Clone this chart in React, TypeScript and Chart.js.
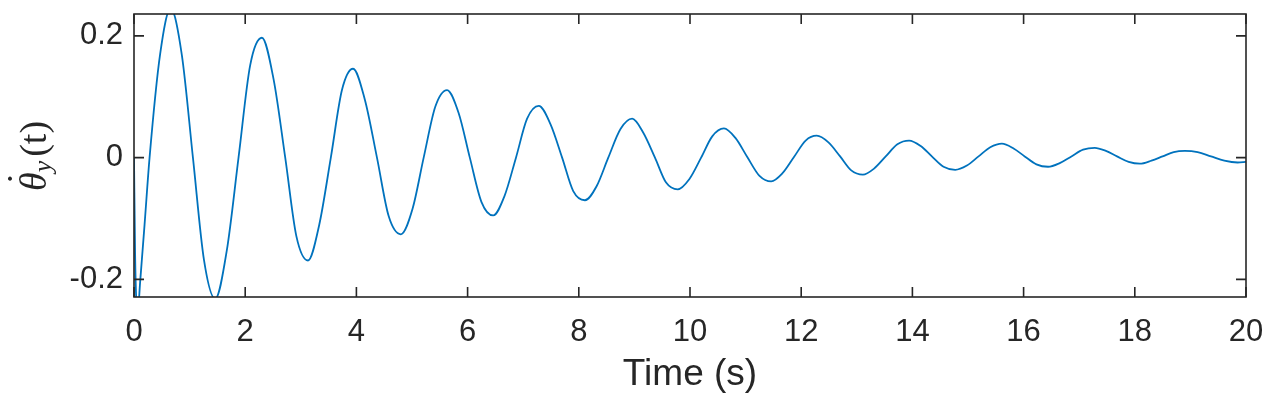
import React, { useEffect, useRef } from "react";
import { Chart, registerables } from "chart.js";

Chart.register(...registerables);

// ---- data ----
const timeS: number[] = [
  0, 0.02, 0.05, 0.07, 0.11, 0.19, 0.28, 0.47, 0.66,
  0.86, 1.06, 1.26, 1.46,
  1.67, 1.88, 2.09, 2.30,
  2.51, 2.72, 2.92, 3.13,
  3.33, 3.54, 3.74, 3.94,
  4.15, 4.37, 4.58, 4.80,
  5.01, 5.21, 5.42, 5.63,
  5.84, 6.04, 6.25, 6.46,
  6.66, 6.87, 7.07, 7.28,
  7.49, 7.70, 7.90, 8.11,
  8.32, 8.53, 8.75, 8.96,
  9.16, 9.37, 9.57, 9.78,
  9.99, 10.20, 10.40, 10.61,
  10.82, 11.03, 11.25, 11.46,
  11.66, 11.87, 12.08, 12.28,
  12.49, 12.70, 12.90, 13.11,
  13.31, 13.52, 13.73, 13.94,
  14.15, 14.35, 14.56, 14.77,
  14.98, 15.19, 15.40, 15.61,
  15.82, 16.02, 16.23, 16.44,
  16.65, 16.86, 17.07, 17.28,
  17.48, 17.68, 17.89, 18.09,
  18.30, 18.50, 18.70, 18.90,
  19.13, 19.37, 19.61, 19.85,
  20.0,
];

const thetaDotY: number[] = [
  0, -0.16, -0.245, -0.25, -0.205, -0.11, 0, 0.17, 0.245,
  0.169, 0, -0.169, -0.232,
  -0.152, 0, 0.152, 0.197,
  0.129, 0, -0.129, -0.169,
  -0.111, 0, 0.111, 0.146,
  0.096, 0, -0.096, -0.126,
  -0.084, 0, 0.084, 0.111,
  0.073, 0, -0.073, -0.095,
  -0.064, 0, 0.064, 0.085,
  0.055, 0, -0.055, -0.07,
  -0.047, 0, 0.047, 0.064,
  0.041, 0, -0.041, -0.052,
  -0.035, 0, 0.035, 0.048,
  0.032, 0.001, -0.03, -0.039,
  -0.026, 0.001, 0.028, 0.036,
  0.025, 0.002, -0.021, -0.028,
  -0.018, 0.002, 0.022, 0.028,
  0.019, 0.002, -0.015, -0.02,
  -0.013, 0.002, 0.017, 0.023,
  0.015, 0.002, -0.011, -0.015,
  -0.009, 0.002, 0.013, 0.016,
  0.011, 0.002, -0.007, -0.01,
  -0.005, 0.002, 0.009, 0.011,
  0.009, 0.002, -0.005, -0.008,
  -0.007,
];

const xTicks: number[] = [0, 2, 4, 6, 8, 10, 12, 14, 16, 18, 20];
const yTicks: number[] = [-0.2, 0, 0.2];
const yTickLabels: string[] = ["-0.2", "0", "0.2"];
const xAxisTitle = "Time (s)";
const X_MIN = 0;
const X_MAX = 20;
const Y_MIN = -0.229;
const Y_MAX = 0.236;

const AXIS_COLOR = "#262626";
const LINE_COLOR = "#0072BD";
const SANS = '"Liberation Sans", Arial, sans-serif';
const SERIF = '"Liberation Serif", "Times New Roman", serif';

const matlabAxesPlugin = {
  id: "matlabAxes",
  afterDatasetsDraw(chart: any) {
    const { ctx, chartArea, scales } = chart;
    const { left, right, top, bottom } = chartArea;
    const xs = scales.x;
    const ys = scales.y;
    ctx.save();
    ctx.strokeStyle = AXIS_COLOR;
    ctx.lineWidth = 1.6;
    ctx.strokeRect(left, top, right - left, bottom - top);
    const L = 10;
    ctx.beginPath();
    xTicks.forEach((v) => {
      const px = xs.getPixelForValue(v);
      ctx.moveTo(px, bottom);
      ctx.lineTo(px, bottom - L);
      ctx.moveTo(px, top);
      ctx.lineTo(px, top + L);
    });
    yTicks.forEach((v) => {
      const py = ys.getPixelForValue(v);
      ctx.moveTo(left, py);
      ctx.lineTo(left + L, py);
      ctx.moveTo(right, py);
      ctx.lineTo(right - L, py);
    });
    ctx.stroke();
    ctx.restore();

    // y-axis label: theta-dot with subscript y, then (t)
    ctx.save();
    ctx.translate(46, 156);
    ctx.rotate(-Math.PI / 2);
    ctx.fillStyle = AXIS_COLOR;
    ctx.textBaseline = "alphabetic";
    ctx.textAlign = "left";
    const big = 38;
    const small = 26;
    const fBig = `italic ${big}px ${SERIF}`;
    const fSmall = `italic ${small}px ${SERIF}`;
    const fRoman = `${big}px ${SERIF}`;
    ctx.font = fBig;
    const wTheta = ctx.measureText("θ").width;
    ctx.font = fSmall;
    const wSub = ctx.measureText("y").width;
    ctx.font = fRoman;
    const wRest = ctx.measureText("(t)").width;
    const gap = 4;
    const total = wTheta + wSub + gap + wRest;
    let x0 = -total / 2;
    ctx.font = fBig;
    ctx.fillText("θ", x0, 0);
    ctx.textAlign = "center";
    ctx.font = `${big}px ${SERIF}`;
    ctx.fillText("˙", x0 + wTheta / 2 + 3, -13);
    ctx.textAlign = "left";
    x0 += wTheta;
    ctx.font = fSmall;
    ctx.fillText("y", x0, 5);
    x0 += wSub + gap;
    ctx.font = fRoman;
    ctx.fillText("(t)", x0, 0);
    ctx.restore();
  },
};

export default function App() {
  const canvasRef = useRef<HTMLCanvasElement | null>(null);

  useEffect(() => {
    if (!canvasRef.current) return;
    const points = timeS.map((t, i) => ({ x: t, y: thetaDotY[i] }));
    const chart = new Chart(canvasRef.current, {
      type: "line",
      data: {
        datasets: [
          {
            data: points,
            borderColor: LINE_COLOR,
            borderWidth: 1.8,
            pointRadius: 0,
            fill: false,
            cubicInterpolationMode: "monotone",
          },
        ],
      },
      options: {
        animation: false,
        responsive: true,
        maintainAspectRatio: false,
        devicePixelRatio: 1,
        layout: { padding: { left: 0, right: 26, top: 14, bottom: 0 } },
        plugins: {
          legend: { display: false },
          tooltip: { enabled: false },
        },
        scales: {
          x: {
            type: "linear",
            min: X_MIN,
            max: X_MAX,
            afterBuildTicks: (scale: any) => {
              scale.ticks = xTicks.map((v) => ({ value: v }));
            },
            afterFit: (scale: any) => {
              scale.height = 105;
              scale.paddingLeft = 0;
              scale.paddingRight = 0;
            },
            grid: { display: false, drawTicks: false },
            border: { display: false },
            ticks: {
              autoSkip: false,
              maxRotation: 0,
              padding: 17,
              color: AXIS_COLOR,
              font: { family: SANS, size: 31 },
              callback: (v: any) => String(v),
            },
            title: {
              display: true,
              text: xAxisTitle,
              color: AXIS_COLOR,
              font: { family: SANS, size: 37 },
              padding: { top: 0, bottom: 5 },
            },
          },
          y: {
            type: "linear",
            min: Y_MIN,
            max: Y_MAX,
            afterBuildTicks: (scale: any) => {
              scale.ticks = yTicks.map((v) => ({ value: v }));
            },
            afterFit: (scale: any) => {
              scale.width = 134;
              scale.paddingTop = 0;
              scale.paddingBottom = 0;
            },
            grid: { display: false, drawTicks: false },
            border: { display: false },
            ticks: {
              padding: 11,
              color: AXIS_COLOR,
              font: { family: SANS, size: 31 },
              callback: (_v: any, i: number) => yTickLabels[i],
            },
          },
        },
      },
      plugins: [matlabAxesPlugin],
    });
    return () => chart.destroy();
  }, []);

  return (
    <div
      style={{
        position: "absolute",
        left: 0,
        top: 0,
        width: 1272,
        height: 402,
        background: "#ffffff",
      }}
    >
      <canvas ref={canvasRef} />
    </div>
  );
}
